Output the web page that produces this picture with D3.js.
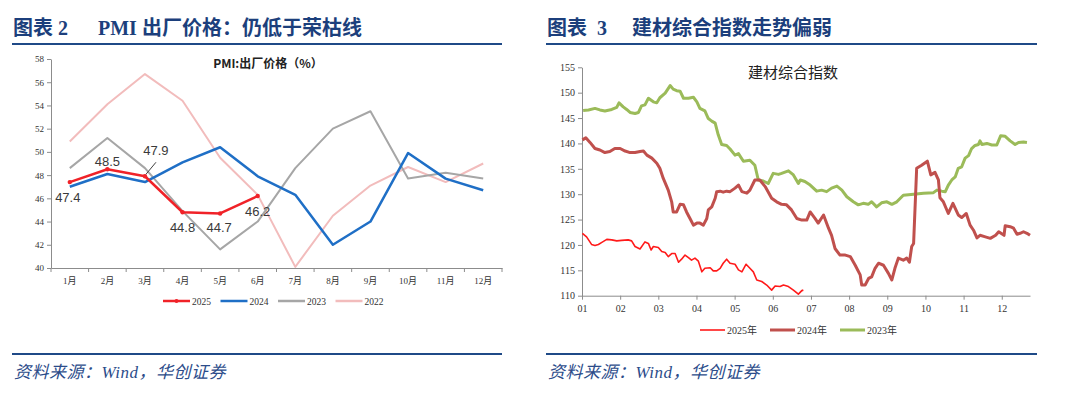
<!DOCTYPE html>
<html><head><meta charset="utf-8">
<script src="https://cdn.jsdelivr.net/npm/d3@7"></script>
<style>
html,body{margin:0;padding:0;background:#fff;}
svg{display:block;}
</style></head>
<body>
<svg id="c" width="1080" height="395"></svg>
<script>
// ---------- Data: left chart (PMI 出厂价格) ----------
const months = ["1月","2月","3月","4月","5月","6月","7月","8月","9月","10月","11月","12月"];
const pmi2025 = [47.4, 48.5, 47.9, 44.8, 44.7, 46.2];
const pmi2024 = [47.0, 48.1, 47.4, 49.1, 50.4, 47.9, 46.3, 42.0, 44.0, 49.9, 47.7, 46.7];
const pmi2023 = [48.6, 51.2, 48.6, 44.9, 41.6, 44.0, 48.6, 52.0, 53.5, 47.7, 48.2, 47.7];
const pmi2022 = [50.9, 54.1, 56.7, 54.4, 49.5, 46.3, 40.1, 44.5, 47.1, 48.7, 47.4, 49.0];
const pmiTicks = [40,42,44,46,48,50,52,54,56,58];

// ---------- Data: right chart (建材综合指数), [month position, value] ----------
const monthLabels = ["01","02","03","04","05","06","07","08","09","10","11","12"];
const idxTicks = [110,115,120,125,130,135,140,145,150,155];
const idx2025 = [[0.01,122.3],[0.12,121.6],[0.25,120.1],[0.34,119.9],[0.43,120.1],[0.52,120.5],[0.65,121.1],[0.78,121.0],[0.91,120.8],[1.04,120.9],[1.21,121.0],[1.30,120.8],[1.39,119.7],[1.52,119.2],[1.65,120.6],[1.74,120.3],[1.81,119.0],[1.87,119.7],[2.00,119.5],[2.09,118.7],[2.18,118.5],[2.26,117.7],[2.35,118.3],[2.44,118.3],[2.53,116.6],[2.61,117.2],[2.70,118.0],[2.79,117.5],[2.87,117.0],[2.96,117.4],[3.05,116.8],[3.14,114.7],[3.22,115.4],[3.36,115.5],[3.44,114.9],[3.53,114.9],[3.62,115.4],[3.70,116.4],[3.79,117.2],[3.88,116.4],[4.01,116.2],[4.10,115.1],[4.19,114.7],[4.30,116.2],[4.40,115.4],[4.49,114.7],[4.58,113.1],[4.71,112.8],[4.84,112.1],[4.97,111.1],[5.06,111.9],[5.19,111.8],[5.28,112.1],[5.41,111.8],[5.54,111.1],[5.67,110.3],[5.76,111.0],[5.80,111.1]];
const idx2024 = [[0.01,140.7],[0.10,141.1],[0.21,140.2],[0.34,139.0],[0.47,138.7],[0.60,138.2],[0.73,138.4],[0.86,139.0],[1.00,139.0],[1.13,138.5],[1.26,138.2],[1.39,138.2],[1.52,138.4],[1.61,138.5],[1.70,137.7],[1.83,137.1],[1.96,136.1],[2.04,135.1],[2.13,133.1],[2.26,130.8],[2.35,128.5],[2.39,126.5],[2.48,126.5],[2.57,128.0],[2.66,127.9],[2.74,126.5],[2.83,125.2],[2.92,123.9],[3.01,124.3],[3.09,124.3],[3.18,123.9],[3.27,125.2],[3.31,126.9],[3.40,127.5],[3.49,129.2],[3.53,130.5],[3.62,130.6],[3.70,130.4],[3.79,130.6],[3.88,130.5],[4.01,131.2],[4.10,131.8],[4.19,130.5],[4.32,130.2],[4.40,130.8],[4.53,132.8],[4.66,132.8],[4.80,131.5],[4.97,129.2],[5.10,128.5],[5.23,128.0],[5.36,127.9],[5.49,126.9],[5.63,125.2],[5.76,124.9],[5.89,124.9],[5.98,126.5],[6.11,125.2],[6.19,124.3],[6.33,125.9],[6.46,123.3],[6.54,121.9],[6.63,119.3],[6.76,118.0],[6.90,118.0],[7.03,117.7],[7.16,116.0],[7.29,114.1],[7.33,112.1],[7.42,112.1],[7.51,113.4],[7.59,113.7],[7.68,115.4],[7.77,116.4],[7.90,116.0],[8.03,114.4],[8.12,113.1],[8.20,115.4],[8.29,117.4],[8.42,117.0],[8.51,117.4],[8.58,116.6],[8.64,119.7],[8.69,120.3],[8.77,135.1],[8.90,135.7],[9.05,136.5],[9.14,133.8],[9.25,134.3],[9.34,132.8],[9.38,129.3],[9.47,128.5],[9.60,126.2],[9.72,128.2],[9.86,125.9],[9.95,125.4],[10.07,126.2],[10.17,123.9],[10.26,122.9],[10.35,121.4],[10.43,121.9],[10.57,121.6],[10.70,121.3],[10.84,121.9],[10.92,122.6],[11.06,121.9],[11.09,123.8],[11.22,123.6],[11.31,123.3],[11.40,122.1],[11.48,122.3],[11.57,122.6],[11.66,122.3],[11.74,121.9]];
const idx2023 = [[0.03,146.5],[0.17,146.6],[0.34,146.9],[0.47,146.6],[0.60,146.4],[0.78,146.7],[0.91,147.1],[0.97,148.0],[1.08,147.2],[1.17,146.7],[1.26,146.1],[1.39,145.9],[1.48,146.1],[1.56,147.4],[1.65,147.6],[1.74,148.9],[1.87,148.2],[1.96,148.0],[2.04,149.0],[2.18,149.9],[2.31,151.4],[2.39,150.7],[2.48,150.4],[2.57,150.3],[2.66,148.9],[2.79,148.9],[2.92,149.1],[3.01,148.2],[3.09,146.9],[3.22,146.4],[3.31,144.9],[3.40,144.4],[3.49,144.0],[3.57,141.7],[3.66,139.8],[3.79,139.6],[3.88,138.9],[4.01,137.7],[4.10,138.0],[4.23,136.5],[4.40,136.7],[4.53,135.7],[4.62,132.8],[4.75,132.6],[4.88,132.1],[5.01,134.1],[5.15,133.9],[5.23,134.1],[5.41,134.6],[5.54,133.8],[5.67,132.1],[5.72,132.8],[5.84,132.5],[5.98,131.8],[6.15,130.6],[6.28,130.8],[6.41,130.5],[6.54,131.2],[6.68,131.6],[6.81,130.8],[6.94,129.5],[7.11,128.5],[7.24,127.9],[7.37,128.2],[7.50,128.0],[7.59,128.5],[7.72,127.5],[7.85,128.3],[7.99,128.5],[8.12,128.0],[8.25,128.5],[8.42,129.8],[8.69,130.0],[8.95,130.2],[9.21,130.3],[9.30,130.8],[9.43,130.6],[9.52,130.5],[9.60,131.8],[9.69,132.8],[9.78,133.4],[9.86,135.1],[9.95,135.4],[10.04,137.1],[10.13,137.6],[10.21,139.0],[10.30,139.6],[10.39,139.8],[10.43,140.5],[10.48,139.8],[10.61,140.0],[10.74,139.7],[10.87,139.7],[10.97,141.5],[11.09,141.4],[11.22,140.5],[11.35,139.8],[11.44,140.2],[11.57,140.3],[11.66,140.2]];

// ---------- Drawing ----------
const svg = d3.select("#c");
const titleColor = "#1c3f7c";
const ruleColor = "#1f4a87";
const serif = "'Liberation Serif','Noto Sans CJK SC',serif";
const titleFont = "'Liberation Serif','Noto Sans CJK SC',serif";

function header(x0, x1, label, lineY){
  svg.append("text").attr("x", x0+1).attr("y", 35)
    .attr("font-family", titleFont).attr("font-weight","bold").attr("font-size", 20)
    .attr("fill", titleColor).style("white-space","pre").text(label);
  svg.append("line").attr("x1", x0).attr("x2", x1).attr("y1", lineY).attr("y2", lineY)
    .attr("stroke", ruleColor).attr("stroke-width", 2);
}
function footer(x0, x1){
  svg.append("line").attr("x1", x0).attr("x2", x1).attr("y1", 354).attr("y2", 354)
    .attr("stroke", ruleColor).attr("stroke-width", 2);
  svg.append("text").attr("x", x0+2).attr("y", 378)
    .attr("font-family", serif).attr("font-style","italic").attr("font-size", 17)
    .attr("letter-spacing", 0.5)
    .attr("fill", "#2c4c8a").text("资料来源：Wind，华创证券");
}
header(12, 502, "图表 2      PMI 出厂价格：仍低于荣枯线", 44);
header(546, 1037, "图表  3     建材综合指数走势偏弱", 44);
footer(12, 502);
footer(546, 1037);

// ---- Left chart ----
const L = {x0:51, x1:502, y0:59, y1:268};
const xL = d3.scaleBand().domain(months).range([L.x0, L.x1]);
const yL = d3.scaleLinear().domain([40,58]).range([L.y1, L.y0]);
const gL = svg.append("g");

const yAxL = gL.append("g").attr("transform", `translate(${L.x0},0)`)
  .call(d3.axisLeft(yL).tickValues(pmiTicks).tickSize(4).tickSizeOuter(0));
const xAxL = gL.append("g").attr("transform", `translate(0,${L.y1})`)
  .call(d3.axisBottom(xL).tickSize(0).tickPadding(10).tickSizeOuter(0));
// tick marks at band boundaries
gL.append("g").selectAll("line").data(d3.range(months.length+1)).join("line")
  .attr("x1", i => L.x0 + i*xL.step()).attr("x2", i => L.x0 + i*xL.step())
  .attr("y1", L.y1).attr("y2", L.y1+4).attr("stroke","#8c8c8c");
[yAxL, xAxL].forEach(a => {
  a.select(".domain").attr("stroke","#8c8c8c");
  a.selectAll(".tick line").attr("stroke","#8c8c8c");
  a.selectAll("text").attr("font-family", serif).attr("font-size", 9).attr("fill","#333");
});

gL.append("text").attr("x", 268).attr("y", 68).attr("text-anchor","middle")
  .attr("font-family","'Noto Sans CJK SC',sans-serif").attr("font-weight","bold")
  .attr("font-size", 12).attr("fill","#222").text("PMI:出厂价格（%）");

const lineL = d3.line().x((d,i) => xL(months[i]) + xL.bandwidth()/2).y(d => yL(d));
const seriesL = [
  {name:"2022", data:pmi2022, color:"#f2bcbc", w:2},
  {name:"2023", data:pmi2023, color:"#a6a6a6", w:2},
  {name:"2024", data:pmi2024, color:"#1f6fc6", w:2.5},
  {name:"2025", data:pmi2025, color:"#f02228", w:2.5}
];
seriesL.forEach(s => {
  gL.append("path").datum(s.data).attr("d", lineL).attr("fill","none")
    .attr("stroke", s.color).attr("stroke-width", s.w).attr("stroke-linejoin","round");
});
gL.append("g").selectAll("circle").data(pmi2025).join("circle")
  .attr("cx", (d,i) => xL(months[i]) + xL.bandwidth()/2).attr("cy", d => yL(d))
  .attr("r", 2.2).attr("fill","#f02228");

// data labels for 2025
const lblOff = [[-2,20],[0,-3],[11,-21],[0,20],[-1,19],[0,20]];
gL.append("g").selectAll("text").data(pmi2025).join("text")
  .attr("x", (d,i) => xL(months[i]) + xL.bandwidth()/2 + lblOff[i][0])
  .attr("y", (d,i) => yL(d) + lblOff[i][1])
  .attr("text-anchor","middle").attr("font-family","'Liberation Sans',Arial,sans-serif")
  .attr("font-size", 13).attr("fill","#3a3a3a").text(d => d.toFixed(1));
// leader line for 47.9
{
  const px = xL(months[2]) + xL.bandwidth()/2, py = yL(pmi2025[2]);
  gL.append("line").attr("x1", px+1).attr("y1", py-2).attr("x2", px+11).attr("y2", py-14)
    .attr("stroke","#404040").attr("stroke-width",1);
}

// legend left
const legL = [["2025","#f02228",true],["2024","#1f6fc6",false],["2023","#a6a6a6",false],["2022","#f2bcbc",false]];
legL.forEach((d,i) => {
  const x = 163 + i*57.5, y = 301;
  gL.append("line").attr("x1", x).attr("x2", x+27).attr("y1", y).attr("y2", y)
    .attr("stroke", d[1]).attr("stroke-width", 2.5);
  if (d[2]) gL.append("circle").attr("cx", x+13.5).attr("cy", y).attr("r", 2).attr("fill", d[1]);
  gL.append("text").attr("x", x+29).attr("y", y+3.5).attr("font-family", serif)
    .attr("font-size", 9.5).attr("fill","#333").text(d[0]);
});

// ---- Right chart ----
const R = {x0:582, x1:1030, y0:67.3, y1:295.7};
const xR = d3.scaleLinear().domain([0, 11.74]).range([R.x0, R.x1]);
const yR = d3.scaleLinear().domain([110,155]).range([R.y1, R.y0]);
const gR = svg.append("g");

const yAxR = gR.append("g").attr("transform", `translate(${R.x0},0)`)
  .call(d3.axisLeft(yR).tickValues(idxTicks).tickSize(4).tickSizeOuter(0));
const xAxR = gR.append("g").attr("transform", `translate(0,${R.y1})`)
  .call(d3.axisBottom(xR).tickValues(d3.range(12)).tickFormat(i => monthLabels[i])
        .tickSize(4).tickPadding(5).tickSizeOuter(0));
[yAxR, xAxR].forEach(a => {
  a.select(".domain").attr("stroke","#8c8c8c");
  a.selectAll(".tick line").attr("stroke","#8c8c8c");
  a.selectAll("text").attr("font-family", serif).attr("font-size", 10).attr("fill","#333");
});

gR.append("text").attr("x", 748).attr("y", 78)
  .attr("font-family","'Noto Sans CJK SC',sans-serif").attr("font-size", 15)
  .attr("fill","#222").text("建材综合指数");

const lineR = d3.line().x(d => xR(d[0])).y(d => yR(d[1]));
const seriesR = [
  {name:"2023年", data:idx2023, color:"#9bbb59", w:3},
  {name:"2024年", data:idx2024, color:"#c0504d", w:3},
  {name:"2025年", data:idx2025, color:"#ff1a1a", w:1.6}
];
seriesR.forEach(s => {
  gR.append("path").datum(s.data).attr("d", lineR).attr("fill","none")
    .attr("stroke", s.color).attr("stroke-width", s.w).attr("stroke-linejoin","round");
});

const legR = [["2025年","#ff1a1a",1.6],["2024年","#c0504d",3],["2023年","#9bbb59",3]];
legR.forEach((d,i) => {
  const x = 700 + i*70, y = 330;
  gR.append("line").attr("x1", x).attr("x2", x+25).attr("y1", y).attr("y2", y)
    .attr("stroke", d[1]).attr("stroke-width", d[2]);
  gR.append("text").attr("x", x+27).attr("y", y+3.5).attr("font-family", serif)
    .attr("font-size", 10).attr("fill","#333").text(d[0]);
});
</script>
</body></html>
